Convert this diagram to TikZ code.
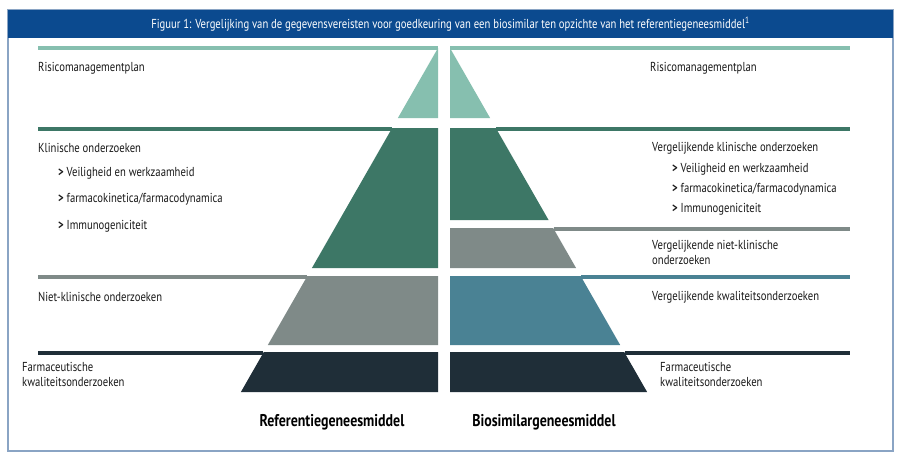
\documentclass[tikz,border=0pt]{standalone}
\usepackage{fontspec}
\setmainfont[FakeStretch=0.82]{PT Sans}
\begin{document}
\begin{tikzpicture}[x=1pt,y=-1pt,
  lbl/.style={anchor=west,inner sep=0,font=\fontsize{13}{15}\selectfont,text=black!90},
  lbl2/.style={lbl,align=left},
  tier/.style={draw=none},
  hl/.style={line width=4pt}]
\definecolor{tA}{HTML}{86BFAF}\definecolor{tB}{HTML}{3D7766}
\definecolor{tC}{HTML}{7F8A88}\definecolor{tD}{HTML}{1F2E38}
\definecolor{tE}{HTML}{4A8294}\definecolor{ttl}{HTML}{0B4A8F}
\definecolor{frm}{HTML}{8AA4C4}
\useasboundingbox (0,0) rectangle (900,456);
\fill[white] (0,0) rectangle (900,456);
\draw[frm,line width=1.5pt] (8,10) rectangle (893,451);
\fill[ttl] (8,10) rectangle (893,38);
\node[text=white,font=\fontsize{13}{15}\selectfont] (title) at (450.5,24) {Figuur 1: Vergelijking van de gegevensvereisten voor goedkeuring van een biosimilar ten opzichte van het referentiegeneesmiddel\textsuperscript{1}};
% slope: x offset = 0.573*(y-48)
\def\lx#1{438-0.573*(#1-48)}
\def\rx#1{450+0.573*(#1-48)}
% left tiers
\fill[tA] (438,48) -- ({\lx{118}},118) -- (438,118) -- cycle;
\fill[tB] ({\lx{128}},128) -- ({\lx{268}},268) -- (438,268) -- (438,128) -- cycle;
\fill[tC] ({\lx{276}},276) -- ({\lx{345}},345) -- (438,345) -- (438,276) -- cycle;
\fill[tD] ({\lx{352}},352) -- ({\lx{392}},392) -- (438,392) -- (438,352) -- cycle;
% right tiers
\fill[tA] (450,48) -- ({\rx{118}},118) -- (450,118) -- cycle;
\fill[tB] ({\rx{128}},128) -- ({\rx{220}},220) -- (450,220) -- (450,128) -- cycle;
\fill[tC] ({\rx{228}},228) -- ({\rx{268}},268) -- (450,268) -- (450,228) -- cycle;
\fill[tE] ({\rx{276}},276) -- ({\rx{345}},345) -- (450,345) -- (450,276) -- cycle;
\fill[tD] ({\rx{352}},352) -- ({\rx{392}},392) -- (450,392) -- (450,352) -- cycle;
% lines
\draw[hl,tA] (38,48) -- (438,48); \draw[hl,tA] (450,48) -- (850,48);
\draw[hl,tB] (38,129) -- ({\lx{129}},129); \draw[hl,tB] ({\rx{129}},129) -- (850,129);
\draw[hl,tC] (38,277) -- ({\lx{277}},277); \draw[hl,tC] ({\rx{229}},229) -- (850,229);
\draw[hl,tE] ({\rx{277}},277) -- (850,277);
\draw[hl,tD] (38,353) -- ({\lx{353}},353); \draw[hl,tD] ({\rx{353}},353) -- (850,353);
% left labels
\node[lbl] (l1) at (38,68) {Risicomanagementplan};
\node[lbl] (l2) at (38,148) {Klinische onderzoeken};
\node[lbl] (l2a) at (58,173) {\textbf{>} Veiligheid en werkzaamheid};
\node[lbl] (l2b) at (58,199) {\textbf{>} farmacokinetica/farmacodynamica};
\node[lbl] (l2c) at (58,226) {\textbf{>} Immunogeniciteit};
\node[lbl] (l3) at (38,297) {Niet-klinische onderzoeken};
\node[lbl2] (l4) at (22,374) {Farmaceutische\\kwaliteitsonderzoeken};
% right labels
\node[lbl] (r1) at (650,68) {Risicomanagementplan};
\node[lbl] (r2) at (652,148) {Vergelijkende klinische onderzoeken};
\node[lbl] (r2a) at (672,169) {\textbf{>} Veiligheid en werkzaamheid};
\node[lbl] (r2b) at (672,189) {\textbf{>} farmacokinetica/farmacodynamica};
\node[lbl] (r2c) at (672,209) {\textbf{>} Immunogeniciteit};
\node[lbl2] (r3) at (652,252) {Vergelijkende niet-klinische\\onderzoeken};
\node[lbl] (r4) at (652,297) {Vergelijkende kwaliteitsonderzoeken};
\node[lbl2] (r5) at (660,374) {Farmaceutische\\kwaliteitsonderzoeken};
% bottom
\node[font=\fontsize{17}{19}\selectfont\bfseries] (ref) at (332,422) {Referentiegeneesmiddel};
\node[font=\fontsize{17}{19}\selectfont\bfseries] (bio) at (544,422) {Biosimilargeneesmiddel};
\end{tikzpicture}
\end{document}
